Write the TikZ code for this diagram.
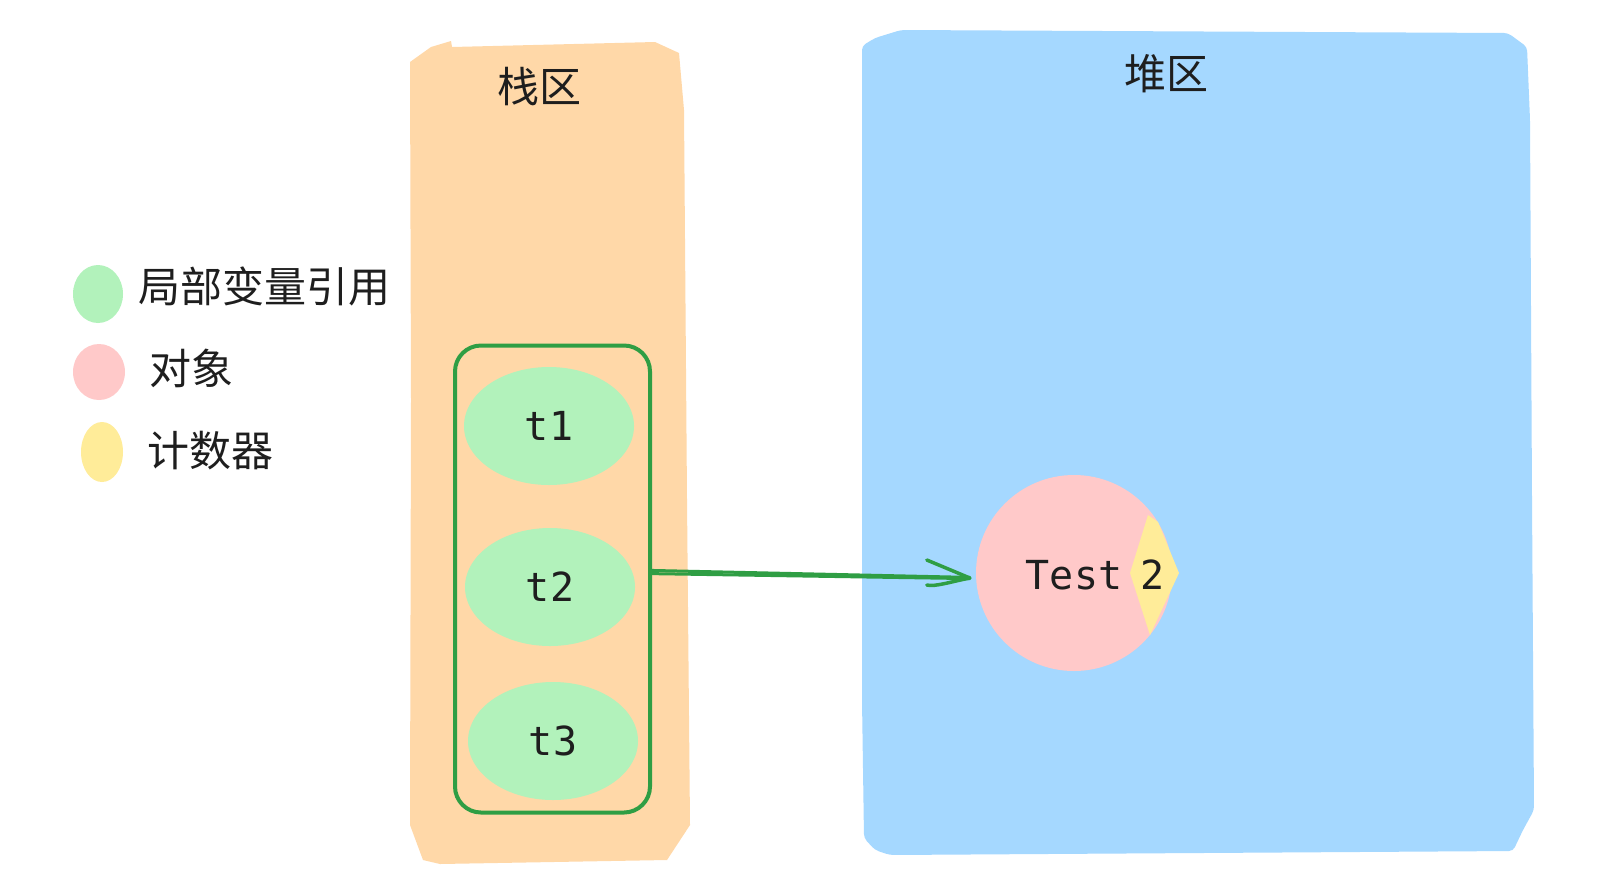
\documentclass[tikz,border=0pt]{standalone}
\usepackage{fontspec}
\newfontfamily\cjkfont{Noto Sans CJK SC}
\newfontfamily\monofont{DejaVu Sans Mono}
\usetikzlibrary{shapes.geometric}
\definecolor{stackfill}{HTML}{FFD8A8}
\definecolor{heapfill}{HTML}{A5D8FF}
\definecolor{varfill}{HTML}{B2F2BB}
\definecolor{objfill}{HTML}{FFC9C9}
\definecolor{cntfill}{HTML}{FFEC99}
\definecolor{greenline}{HTML}{2F9E44}
\definecolor{ink}{HTML}{1E1E1E}
\tikzset{
  cjklabel/.style={text=ink, font=\cjkfont\fontsize{42}{50}\selectfont, inner sep=0pt},
  monolabel/.style={text=ink, font=\monofont\fontsize{40}{48}\selectfont, inner sep=0pt},
  varblob/.style={ellipse, fill=varfill, minimum width=170pt, minimum height=118pt, monolabel},
  greenstroke/.style={draw=greenline, line width=3pt, line cap=round, line join=round},
}
\begin{document}
\begin{tikzpicture}[x=1pt, y=-1pt]
\useasboundingbox (0,0) rectangle (1613,879);
\fill[white] (0,0) rectangle (1613,879);
% stack region
\fill[stackfill] (410,62) -- (431,47) -- (451,41) -- (452,47) -- (655,42) -- (679,53)
  -- (684,110) -- (687,500) -- (690,825) -- (667,860) -- (440,864) -- (423,860)
  -- (410,825) -- (411,400) -- cycle;
\node[cjklabel] (stacklabel) at (539,87) {栈区};
% heap region
\fill[heapfill, rounded corners=4pt] (862,46) -- (875,38) -- (901,30) -- (1508,33) -- (1527,47)
  -- (1530,120) -- (1532,500) -- (1534,810) -- (1523,830) -- (1513,851)
  -- (890,855) -- (875,850) -- (864,838) -- (862,700) -- cycle;
\node[cjklabel] (heaplabel) at (1166,74) {堆区};
% legend
\fill[varfill] (98,294) ellipse [x radius=25, y radius=29];
\node[cjklabel, anchor=west] (lg1) at (138,286) {局部变量引用};
\fill[objfill] (99,372) ellipse [x radius=26, y radius=28];
\node[cjklabel, anchor=west] (lg2) at (149,368) {对象};
\fill[cntfill] (102,452) ellipse [x radius=21, y radius=30];
\node[cjklabel, anchor=west] (lg3) at (147,451) {计数器};
% local variables
\node[varblob] (t1) at (549,426) {t1};
\node[varblob] (t2) at (550,587) {t2};
\node[varblob] (t3) at (553,741) {t3};
\node[draw=greenline, line width=4pt, rounded corners=26pt, minimum width=195pt, minimum height=467pt, inner sep=0pt] (frame) at (552.5,579) {};
% object with counter
\node[circle, fill=objfill, minimum size=196pt, inner sep=0pt] (obj) at (1074,573) {};
\fill[cntfill] (1130,573) -- (1148,515) -- (1158,522) -- (1179,573) -- (1150,635) -- cycle;
\node[monolabel] (objtext) at (1074,575) {Test};
\node[monolabel] (cnt) at (1153,575) {2};
% reference arrow
\coordinate (as) at ([xshift=-2pt,yshift=7pt]frame.east);
\coordinate (ae) at ([xshift=-6pt,yshift=-5pt]obj.west);
\draw[greenstroke] ([yshift=1.6pt]as) -- ([yshift=0.6pt]ae);
\draw[greenstroke] ([yshift=-1.6pt]as) -- ([yshift=-0.6pt]ae);
\draw[greenstroke, line width=3.5pt] ([xshift=-43pt,yshift=18pt]ae) -- (ae) .. controls ([xshift=-20pt,yshift=-4pt]ae) and ([xshift=-35pt,yshift=-9pt]ae) .. ([xshift=-43pt,yshift=-7pt]ae);
\end{tikzpicture}
\end{document}
